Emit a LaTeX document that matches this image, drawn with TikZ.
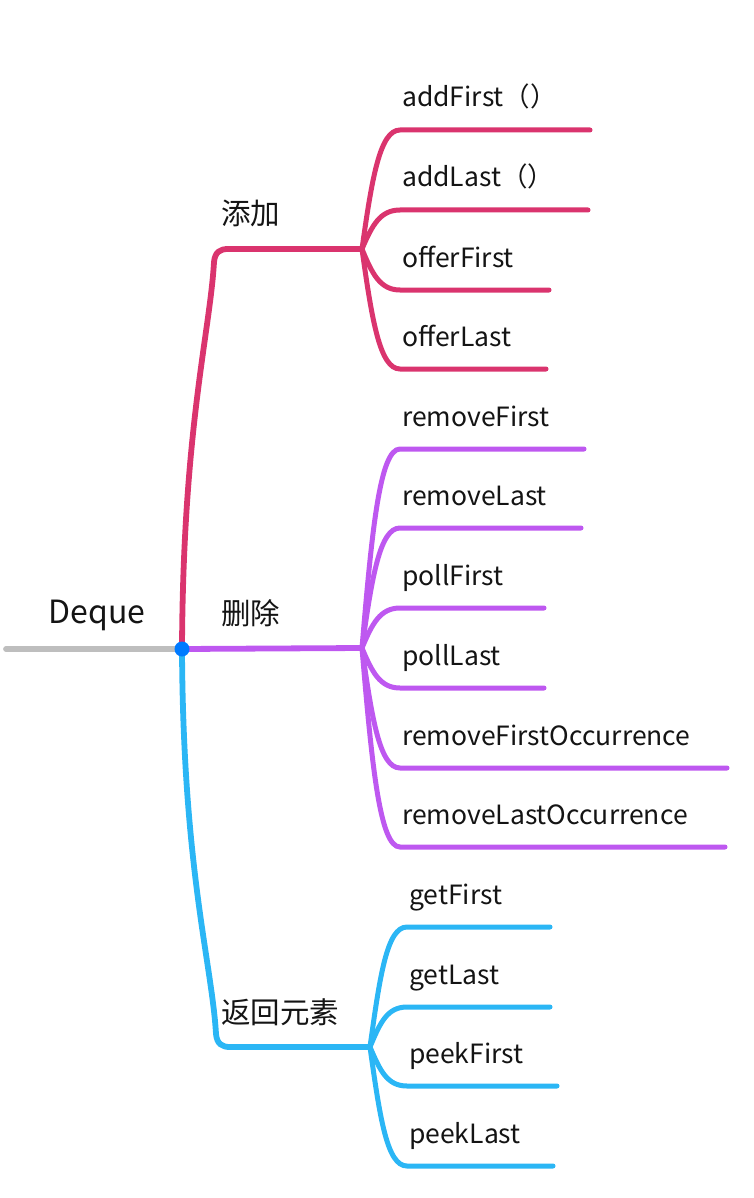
\documentclass[tikz,border=0pt]{standalone}
\usepackage{fontspec}
\setmainfont{Noto Sans CJK SC}
\definecolor{addc}{RGB}{218,52,110}
\definecolor{delc}{RGB}{190,88,240}
\definecolor{retc}{RGB}{43,182,245}
\definecolor{hubc}{RGB}{0,122,255}
\definecolor{stemc}{RGB}{190,190,190}
\definecolor{inkc}{RGB}{20,20,20}
\tikzset{
  twig/.style={line width=5pt},
  bough/.style={line width=5.8pt},
  leaflbl/.style={anchor=base west,inner sep=0pt,text=inkc,font=\fontsize{26.5}{30}\selectfont},
  boughlbl/.style={anchor=base west,inner sep=0pt,text=inkc,font=\fontsize{29.5}{33}\selectfont}
}
\begin{document}
\begin{tikzpicture}[x=1pt,y=-1pt,line cap=round]
\useasboundingbox (0,0) rectangle (753,1198);
\node[anchor=base,inner sep=0pt,text=inkc,font=\fontsize{32}{36}\selectfont] (deque) at (97,623) {Deque};
\coordinate (stem) at (6,649);
\coordinate (hub) at (182,649);
\draw[stemc,line width=5.8pt] (stem) -- (hub);
\coordinate (addbend) at (214,262);
\coordinate (addfork) at (362,249);
\node[boughlbl] (add) at (221,225) {添加};
\draw[addc,bough] (hub) .. controls +(1,-220) and +(-4,70) .. (addbend) .. controls +(1,-10) and +(-8,0) .. (228,249) -- (addfork);
\foreach \y/\e/\t [count=\i, evaluate=\y as \d using 0.6*(\y-249)] in {130/590/addFirst（）,210/588/addLast（）,290/549/offerFirst,369/546/offerLast}{
  \coordinate (add-s\i) at (400,\y);
  \coordinate (add-e\i) at (\e,\y);
  \node[leaflbl] (add-\i) at (402,\y-23) {\t};
  \draw[addc,twig] (addfork) .. controls +(10,\d) and +(-20,0) .. (add-s\i) -- (add-e\i);
}
\coordinate (delfork) at (362,648);
\node[boughlbl] (del) at (221,624) {删除};
\draw[delc,bough] (hub) -- (delfork);
\foreach \y/\e/\t [count=\i, evaluate=\y as \d using 0.6*(\y-648)] in {449/584/removeFirst,528/581/removeLast,608/544/pollFirst,688/544/pollLast,768/727/removeFirstOccurrence,847/725/removeLastOccurrence}{
  \coordinate (del-s\i) at (400,\y);
  \coordinate (del-e\i) at (\e,\y);
  \node[leaflbl] (del-\i) at (402,\y-23) {\t};
  \draw[delc,twig] (delfork) .. controls +(10,\d) and +(-20,0) .. (del-s\i) -- (del-e\i);
}
\coordinate (retbend) at (216,1034);
\coordinate (retfork) at (370,1047);
\node[boughlbl] (ret) at (221,1023) {返回元素};
\draw[retc,bough] (hub) .. controls +(1,220) and +(-4,-70) .. (retbend) .. controls +(1,10) and +(-8,0) .. (230,1047) -- (retfork);
\foreach \y/\e/\t [count=\i, evaluate=\y as \d using 0.6*(\y-1047)] in {927/550/getFirst,1007/550/getLast,1086/557/peekFirst,1166/553/peekLast}{
  \coordinate (ret-s\i) at (407,\y);
  \coordinate (ret-e\i) at (\e,\y);
  \node[leaflbl] (ret-\i) at (409,\y-23) {\t};
  \draw[retc,twig] (retfork) .. controls +(10,\d) and +(-20,0) .. (ret-s\i) -- (ret-e\i);
}
\fill[hubc] (hub) circle (7.5pt);
\end{tikzpicture}
\end{document}
